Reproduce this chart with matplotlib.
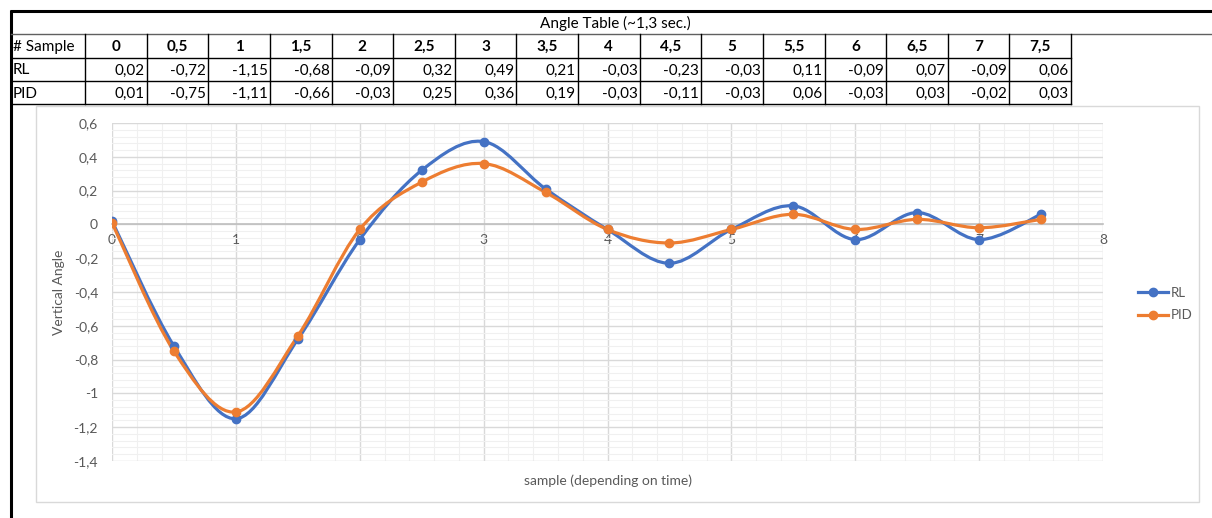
import numpy as np
import matplotlib.pyplot as plt
from matplotlib.path import Path
from matplotlib.patches import PathPatch, Rectangle
from matplotlib.lines import Line2D
from matplotlib.ticker import MultipleLocator, FuncFormatter

plt.rcParams['font.family'] = ['Lato', 'DejaVu Sans']

# data from the angle table
samples = [0, 0.5, 1, 1.5, 2, 2.5, 3, 3.5, 4, 4.5, 5, 5.5, 6, 6.5, 7, 7.5]
rl = [0.02, -0.72, -1.15, -0.68, -0.09, 0.32, 0.49, 0.21, -0.03, -0.23, -0.03, 0.11, -0.09, 0.07, -0.09, 0.06]
pid = [0.01, -0.75, -1.11, -0.66, -0.03, 0.25, 0.36, 0.19, -0.03, -0.11, -0.03, 0.06, -0.03, 0.03, -0.02, 0.03]
series_names = ['RL', 'PID']
colors = ['#4472C4', '#ED7D31']
title = 'Angle Table (~1,3 sec.)'


def comma(v):
    return ('%g' % v).replace('.', ',')


def comma2(v):
    return ('%.2f' % v).replace('.', ',')


def smooth_path(x, y):
    # excel-like smoothed line: bezier segments with catmull-rom control points
    pts = np.column_stack([x, y])
    ext = np.vstack([pts[0], pts, pts[-1]])
    verts = [pts[0]]
    codes = [Path.MOVETO]
    for i in range(len(pts) - 1):
        p0, p1, p2, p3 = ext[i], ext[i + 1], ext[i + 2], ext[i + 3]
        verts += [p1 + (p2 - p0) / 6, p2 - (p3 - p1) / 6, p2]
        codes += [Path.CURVE4] * 3
    return Path(verts, codes)


W, H = 1212, 518
fig = plt.figure(figsize=(W / 100, H / 100), dpi=100)

# overlay in pixel coordinates for the sheet / table
bg = fig.add_axes([0, 0, 1, 1], zorder=0)
bg.set_xlim(0, W)
bg.set_ylim(H, 0)
bg.axis('off')

# outer frame
bg.plot([11, 11], [10, H], color='black', lw=2.2, solid_capstyle='butt')
bg.plot([10, W], [11, 11], color='black', lw=2.2, solid_capstyle='butt')
bg.plot([11, W], [34, 34], color='#606060', lw=1)
bg.text(615, 23, title, ha='center', va='center', fontsize=11, color='black')

# table grid
col0 = 11
col_w = (1071 - 85) / len(samples)
edges = [col0, 85] + [85 + col_w * (i + 1) for i in range(len(samples))]
row_y = [34, 58, 81, 104]
for yy in row_y[1:]:
    bg.plot([col0, edges[-1]], [yy, yy], color='black', lw=1)
for xx in edges[1:]:
    bg.plot([xx, xx], [row_y[0], row_y[-1]], color='black', lw=1)

row_labels = ['# Sample'] + series_names
for r, lab in enumerate(row_labels):
    yc = (row_y[r] + row_y[r + 1]) / 2
    bg.text(13, yc + 1, lab, ha='left', va='center', fontsize=11)
for i, s in enumerate(samples):
    xl, xr = edges[i + 1], edges[i + 2]
    bg.text((xl + xr) / 2, (row_y[0] + row_y[1]) / 2 + 1, comma(s),
            ha='center', va='center', fontsize=11, fontweight='bold')
    for r, vals in enumerate([rl, pid]):
        yc = (row_y[r + 1] + row_y[r + 2]) / 2
        bg.text(xr - 2, yc + 1, comma2(vals[i]), ha='right', va='center', fontsize=11)

# chart area border
bg.add_patch(Rectangle((36, 106), 1199 - 36, 502 - 106, fill=False,
                       edgecolor='#D9D9D9', lw=1))

# chart
left, right, top, bottom = 112, 1103, 123, 461
ax = fig.add_axes([left / W, (H - bottom) / H, (right - left) / W, (bottom - top) / H], zorder=2)
ax.set_facecolor('none')
ax.set_xlim(0, 8)
ax.set_ylim(-1.4, 0.6)
ax.xaxis.set_major_locator(MultipleLocator(1))
ax.xaxis.set_minor_locator(MultipleLocator(0.2))
ax.yaxis.set_major_locator(MultipleLocator(0.2))
ax.yaxis.set_minor_locator(MultipleLocator(0.04))
ax.grid(which='major', color='#D9D9D9', lw=1)
ax.grid(which='minor', color='#F0F0F0', lw=0.8)
ax.set_axisbelow(True)
for sp in ['top', 'right', 'left']:
    ax.spines[sp].set_visible(False)
ax.spines['bottom'].set_position(('data', 0))
ax.spines['bottom'].set_color('#BFBFBF')
ax.spines['bottom'].set_linewidth(1.2)
ax.tick_params(which='both', length=0, labelsize=10, labelcolor='#595959')
ax.tick_params(axis='x', pad=7)
ax.tick_params(axis='y', pad=10)
ax.xaxis.set_major_formatter(FuncFormatter(lambda v, p: comma(round(v, 2))))
ax.yaxis.set_major_formatter(FuncFormatter(lambda v, p: comma(round(v, 2))))

handles = []
for name, vals, c in zip(series_names, [rl, pid], colors):
    ax.add_patch(PathPatch(smooth_path(samples, vals), fill=False, edgecolor=c,
                           lw=2.3, capstyle='round', joinstyle='round', zorder=3))
    ax.plot(samples, vals, 'o', color=c, ms=6, zorder=4)
    handles.append(Line2D([], [], color=c, lw=2.3, marker='o', ms=6))

ax.set_ylabel('Vertical Angle', fontsize=10, color='#595959')
ax.yaxis.set_label_coords(-(112 - 65) / (right - left), 0.5)
ax.set_xlabel('sample (depending on time)', fontsize=10, color='#595959')
ax.xaxis.set_label_coords(0.5, -(474 - bottom) / (bottom - top))

fig.legend(handles, series_names, loc='center left',
           bbox_to_anchor=(1126 / W, 1 - 304 / H), frameon=False, fontsize=9.5,
           labelcolor='#595959', handlelength=2.3, handletextpad=0.2,
           labelspacing=0.8)

fig.savefig('out.png', dpi=100)
